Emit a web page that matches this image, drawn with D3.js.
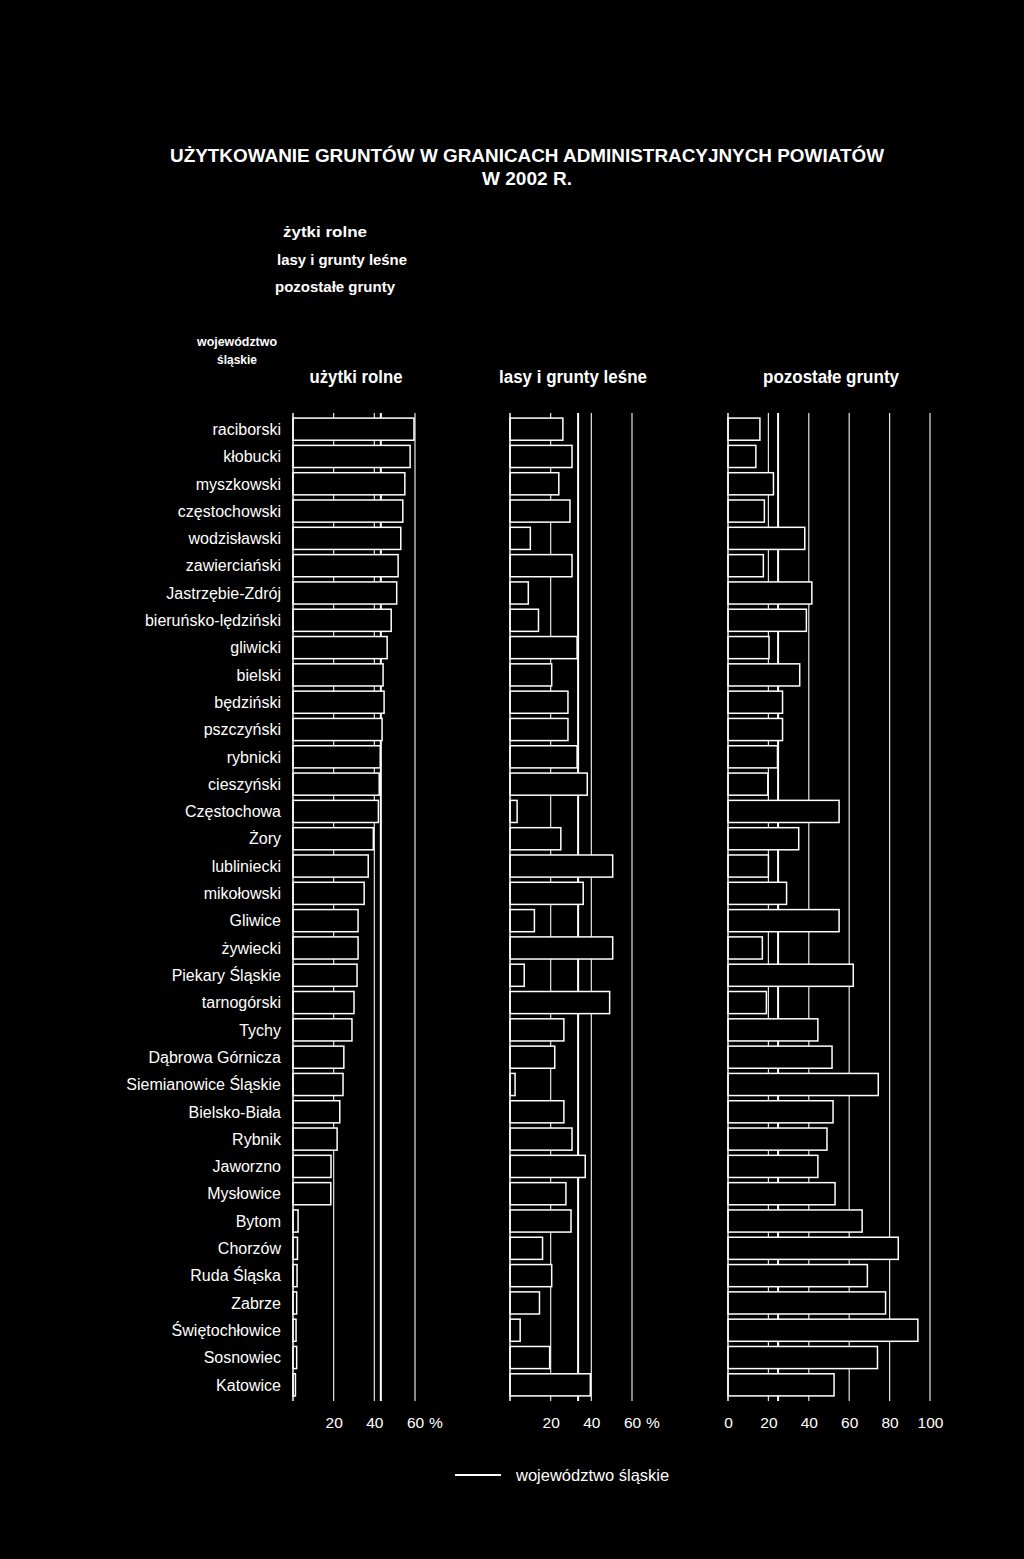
<!DOCTYPE html>
<html>
<head>
<meta charset="utf-8">
<script src="https://cdn.jsdelivr.net/npm/d3@7"></script>
<style>
  body { margin: 0; background: #000; }
  text { font-family: "Liberation Sans", Arial, sans-serif; fill: #fff; }
  .narrow { font-family: "Liberation Sans Narrow", "Liberation Sans", Arial, sans-serif; font-weight: bold; }
</style>
</head>
<body>
<div class="vis-landuse"></div>
<script>
// powiaty, sorted as in the original (by share of agricultural land)
const categories = [
  "raciborski", "kłobucki", "myszkowski", "częstochowski", "wodzisławski",
  "zawierciański", "Jastrzębie-Zdrój", "bieruńsko-lędziński", "gliwicki", "bielski",
  "będziński", "pszczyński", "rybnicki", "cieszyński", "Częstochowa",
  "Żory", "lubliniecki", "mikołowski", "Gliwice", "żywiecki",
  "Piekary Śląskie", "tarnogórski", "Tychy", "Dąbrowa Górnicza", "Siemianowice Śląskie",
  "Bielsko-Biała", "Rybnik", "Jaworzno", "Mysłowice", "Bytom",
  "Chorzów", "Ruda Śląska", "Zabrze", "Świętochłowice", "Sosnowiec", "Katowice"
];

// % of area
const agriValues = [
  59.5, 57.6, 55, 54, 53, 51.7, 51, 48.3, 46.3, 44.3,
  44.8, 43.8, 42.9, 42.4, 42, 39.5, 37, 35, 32, 32,
  31.5, 30, 29, 25, 24.6, 23, 21.7, 18.7, 18.6, 2.5,
  2.2, 2, 1.8, 1.5, 1.8, 1.2
];
const forestValues = [
  26, 30.5, 24, 29.5, 10, 30.5, 9, 14, 33, 20.5,
  28.5, 28.5, 33, 38, 3.5, 25, 50.5, 36, 12, 50.5,
  7, 49, 26.5, 22, 2.5, 26.5, 30.5, 37, 27.5, 30,
  16, 20.5, 14.5, 5, 19.5, 39.5
];
const otherValues = [
  15.8, 13.8, 22.5, 18, 38, 17.5, 41.5, 38.8, 20.3, 35.5,
  27, 27, 24.5, 19.7, 55, 35, 20, 29, 55, 17,
  62, 19, 44.5, 51.5, 74.4, 52, 49, 44.5, 53, 66.4,
  84.3, 69, 78, 94, 74, 52.5
];

// województwo śląskie averages
const voivodeshipValues = [43.2, 33.5, 24.8];

const panelTitles = ["użytki rolne", "lasy i grunty leśne", "pozostałe grunty"];
const legendLabels = ["żytki rolne", "lasy i grunty leśne", "pozostałe grunty"];
const ticksShort = [20, 40, 60];
const ticksFull = [0, 20, 40, 60, 80, 100];

const draw = () => {
  const width = 1024;
  const height = 1559;
  const gridTop = 413;
  const gridBottom = 1401;

  let svg = d3
    .select(".vis-landuse")
    .append("svg")
    .attr("width", width)
    .attr("height", height);

  svg.append("rect").attr("width", width).attr("height", height).attr("fill", "#000");

  // title
  svg
    .append("text")
    .attr("class", "narrow")
    .attr("x", 527)
    .attr("y", 162)
    .attr("text-anchor", "middle")
    .attr("font-size", 18.5)
    .attr("textLength", 714)
    .attr("lengthAdjust", "spacingAndGlyphs")
    .text("UŻYTKOWANIE GRUNTÓW W GRANICACH ADMINISTRACYJNYCH POWIATÓW");
  svg
    .append("text")
    .attr("class", "narrow")
    .attr("x", 527)
    .attr("y", 185)
    .attr("text-anchor", "middle")
    .attr("font-size", 18.5)
    .attr("textLength", 90)
    .attr("lengthAdjust", "spacingAndGlyphs")
    .text("W 2002 R.");

  // legend (swatches lost in the original print)
  const legendX = [283, 277, 275];
  const legendW = [84, 130, 120];
  svg
    .selectAll(".legend-top")
    .data(legendLabels)
    .enter()
    .append("text")
    .attr("class", "legend-top narrow")
    .attr("x", (d, i) => legendX[i])
    .attr("y", (d, i) => 237 + i * 27.5)
    .attr("font-size", 15.5)
    .attr("textLength", (d, i) => legendW[i])
    .attr("lengthAdjust", "spacingAndGlyphs")
    .text((d) => d);

  svg
    .append("text")
    .attr("class", "narrow")
    .attr("x", 237)
    .attr("y", 346)
    .attr("text-anchor", "middle")
    .attr("font-size", 13)
    .attr("textLength", 80)
    .attr("lengthAdjust", "spacingAndGlyphs")
    .text("województwo");
  svg
    .append("text")
    .attr("class", "narrow")
    .attr("x", 237)
    .attr("y", 364)
    .attr("text-anchor", "middle")
    .attr("font-size", 13)
    .attr("textLength", 40)
    .attr("lengthAdjust", "spacingAndGlyphs")
    .text("śląskie");

  let y = d3
    .scaleBand()
    .domain(categories)
    .range([415.5, 1398.5])
    .paddingInner(0.19)
    .paddingOuter(0.095);

  // category labels
  svg
    .selectAll(".cat-label")
    .data(categories)
    .enter()
    .append("text")
    .attr("class", "cat-label")
    .attr("x", 281)
    .attr("y", (d) => y(d) + y.bandwidth() / 2)
    .attr("dy", "0.36em")
    .attr("text-anchor", "end")
    .attr("font-size", 16)
    .text((d) => d);

  const panels = [
    { values: agriValues, x: d3.scaleLinear().domain([0, 60]).range([293, 415]), ticks: ticksShort, pct: true, titleW: 93 },
    { values: forestValues, x: d3.scaleLinear().domain([0, 60]).range([510, 632]), ticks: ticksShort, pct: true, titleW: 148 },
    { values: otherValues, x: d3.scaleLinear().domain([0, 100]).range([728, 930]), ticks: ticksFull, pct: false, titleW: 136 }
  ];

  panels.forEach((p, k) => {
    let g = svg.append("g").attr("class", "panel-" + k);
    const x = p.x;

    // panel header
    g.append("text")
      .attr("class", "narrow")
      .attr("x", (x.range()[0] + x.range()[1]) / 2 + 2)
      .attr("y", 383)
      .attr("text-anchor", "middle")
      .attr("font-size", 17.5)
      .attr("textLength", p.titleW)
      .attr("lengthAdjust", "spacingAndGlyphs")
      .text(panelTitles[k]);

    // gridlines (hidden behind the bars)
    g.selectAll(".grid")
      .data(p.ticks.filter((t) => t > 0))
      .enter()
      .append("line")
      .attr("class", "grid")
      .attr("x1", (d) => x(d))
      .attr("x2", (d) => x(d))
      .attr("y1", gridTop)
      .attr("y2", gridBottom)
      .attr("stroke", "#e6e6e6")
      .attr("stroke-width", 1.2);

    // województwo śląskie line
    g.append("line")
      .attr("x1", x(voivodeshipValues[k]))
      .attr("x2", x(voivodeshipValues[k]))
      .attr("y1", gridTop)
      .attr("y2", gridBottom)
      .attr("stroke", "#fff")
      .attr("stroke-width", 2);

    // bars
    g.selectAll(".bar")
      .data(categories)
      .enter()
      .append("rect")
      .attr("class", "bar")
      .attr("x", x(0))
      .attr("y", (d) => y(d))
      .attr("width", (d, i) => x(p.values[i]) - x(0))
      .attr("height", y.bandwidth())
      .attr("fill", "#000")
      .attr("stroke", "#fff")
      .attr("stroke-width", 1.5);

    // baseline
    g.append("line")
      .attr("x1", x(0))
      .attr("x2", x(0))
      .attr("y1", gridTop)
      .attr("y2", gridBottom)
      .attr("stroke", "#fff")
      .attr("stroke-width", 1.5);

    // tick labels
    let axis = g
      .append("g")
      .attr("class", "x-axis")
      .attr("transform", "translate(0," + 1417 + ")")
      .call(d3.axisBottom(x).tickValues(p.ticks).tickSize(0).tickPadding(0));
    axis.select(".domain").remove();
    axis
      .selectAll("text")
      .attr("fill", "#fff")
      .attr("font-size", 15.5)
      .attr("font-family", '"Liberation Sans", Arial, sans-serif');

    if (p.pct) {
      g.append("text")
        .attr("x", x(60) + 14)
        .attr("y", 1428)
        .attr("font-size", 15.5)
        .text("%");
    }
  });

  // bottom legend
  svg
    .append("line")
    .attr("x1", 455)
    .attr("x2", 501)
    .attr("y1", 1475)
    .attr("y2", 1475)
    .attr("stroke", "#fff")
    .attr("stroke-width", 2);
  svg
    .append("text")
    .attr("x", 516)
    .attr("y", 1481)
    .attr("font-size", 16.5)
    .text("województwo śląskie");
};

draw();
</script>
</body>
</html>
